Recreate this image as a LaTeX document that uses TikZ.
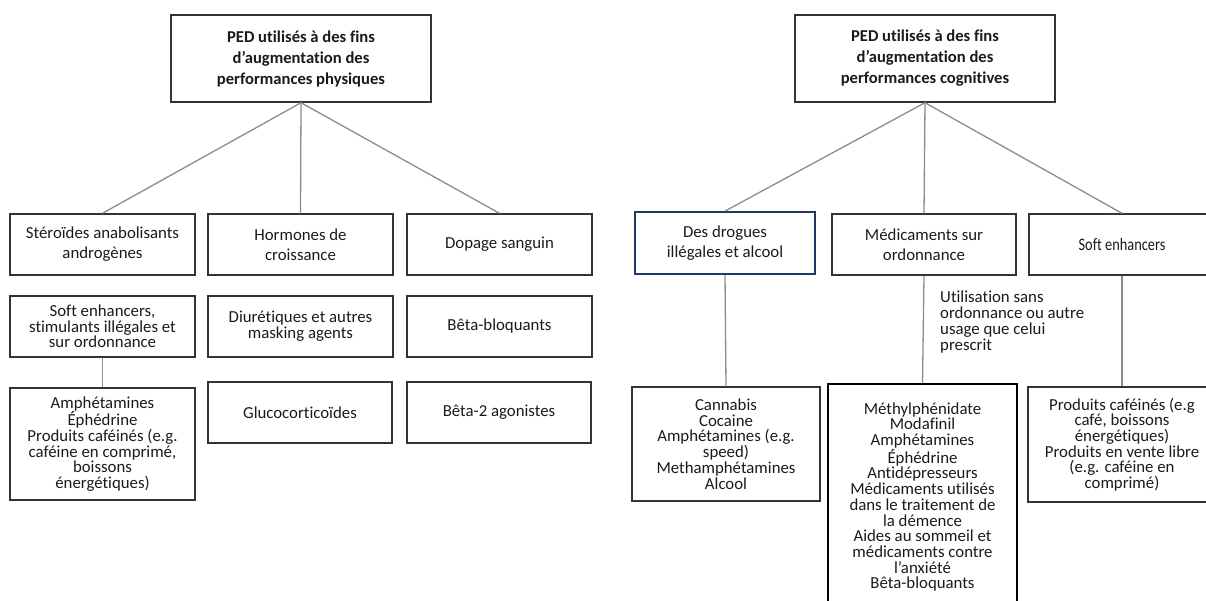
\documentclass[tikz,border=0pt]{standalone}
\usepackage{fontspec}
\setmainfont{Carlito}[Ligatures=NoCommon]
\newfontfamily\condfont[FakeStretch=0.82,Ligatures=NoCommon]{Carlito}
\definecolor{boxc}{HTML}{333333}
\definecolor{linec}{HTML}{8C8C8C}
\definecolor{navy}{HTML}{1F3864}
\definecolor{txt}{HTML}{1A1A1A}
\tikzset{
  x=1pt, y=-1pt,
  box/.style={draw=boxc, line width=1.4pt, inner sep=0pt, align=center, text=txt,
    font={\fontsize{16.8pt}{20pt}\selectfont}},
  tight/.style={font={\fontsize{16.8pt}{15.7pt}\selectfont}},
  topbox/.style={box, font={\bfseries\fontsize{16.6pt}{21pt}\selectfont}},
  conn/.style={draw=linec, line width=1.3pt},
}
\begin{document}
\begin{tikzpicture}
\useasboundingbox (0,0) rectangle (1206,600);
\clip (0,0) rectangle (1206,600);
% ---------- left tree ----------
\node[topbox, minimum width=260pt, minimum height=87pt] (ltop) at (301,58.5)
  {PED utilisés à des fins\\d’augmentation des\\performances physiques};
\node[box, minimum width=185pt, minimum height=61pt] (l11) at (102.5,244.5) {Stéroïdes anabolisants\\androgènes};
\node[box, minimum width=185pt, minimum height=61pt] (l12) at (300.5,244.5) {Hormones de\\croissance};
\node[box, minimum width=185pt, minimum height=61pt] (l13) at (499.5,244.5) {Dopage sanguin};
\node[box, tight, minimum width=185pt, minimum height=61pt] (l21) at (102.5,326.5) {Soft enhancers,\\stimulants illégales et\\sur ordonnance};
\node[box, tight, minimum width=185pt, minimum height=61pt] (l22) at (300.5,326.5) {Diurétiques et autres\\masking agents};
\node[box, minimum width=185pt, minimum height=61pt] (l23) at (499.5,326.5) {Bêta-bloquants};
\node[box, tight, minimum width=185pt, minimum height=112pt] (l31) at (102.5,444) {Amphétamines\\Éphédrine\\Produits caféinés (e.g.\\caféine en comprimé,\\boissons\\énergétiques)};
\node[box, minimum width=184pt, minimum height=61pt] (l32) at (300,412.5) {Glucocorticoïdes};
\node[box, minimum width=184pt, minimum height=61pt] (l33) at (499,412.5) {Bêta-2 agonistes};
\draw[conn] (ltop.south) -- (l11.north);
\draw[conn] (ltop.south) -- (l12.north);
\draw[conn] (ltop.south) -- (l13.north);
\draw[conn] (l21.south) -- (l31.north);
% ---------- right tree ----------
\node[topbox, minimum width=260pt, minimum height=87pt] (rtop) at (925,58.5)
  {PED utilisés à des fins\\d’augmentation des\\performances cognitives};
\node[box, draw=navy, line width=1.8pt, minimum width=180pt, minimum height=62pt] (r11) at (725,243) {Des drogues\\illégales et alcool};
\node[box, minimum width=184pt, minimum height=61pt] (r12) at (924,244.5) {Médicaments sur\\ordonnance};
\node[box, font={\condfont\fontsize{17.5pt}{19pt}\selectfont}, minimum width=186pt, minimum height=61pt] (r13) at (1122,244.5) {Soft enhancers};
\node[box, tight, minimum width=188pt, minimum height=114pt] (r31) at (726,444) {Cannabis\\Cocaine\\Amphétamines (e.g.\\speed)\\Methamphétamines\\Alcool};
\node[box, tight, draw=black, line width=1.7pt, minimum width=189pt, minimum height=226pt] (r32) at (922.5,497) {Méthylphénidate\\Modafinil\\Amphétamines\\Éphédrine\\Antidépresseurs\\Médicaments utilisés\\dans le traitement de\\la démence\\Aides au sommeil et\\médicaments contre\\l'anxiété\\Bêta-bloquants};
\node[box, tight, minimum width=188pt, minimum height=115pt] (r33) at (1122,444.5) {Produits caféinés (e.g\\café, boissons\\énergétiques)\\Produits en vente libre\\(e.g. caféine en\\comprimé)};
\node[tight, align=left, anchor=west, inner sep=0pt, text=txt] (lab) at (940,322) {Utilisation sans\\ordonnance ou autre\\usage que celui\\prescrit};
\draw[conn] (rtop.south) -- (r11.north);
\draw[conn] (rtop.south) -- (r12.north);
\draw[conn] (rtop.south) -- (r13.north);
\draw[conn] (r11.south) -- (r31.north);
\draw[conn] (r12.south) -- (r32.north);
\draw[conn] (r13.south) -- (r33.north);
\end{tikzpicture}
\end{document}
